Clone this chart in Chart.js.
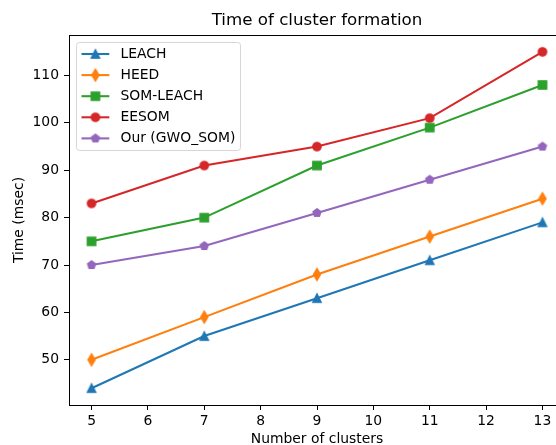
<!DOCTYPE html>
<html>
<head>
<meta charset="utf-8">
<script src="https://cdn.jsdelivr.net/npm/chart.js@4"></script>
<style>
html, body { margin: 0; padding: 0; background: #fff; overflow: hidden; }
#wrap { width: 556px; height: 445px; overflow: hidden; }
</style>
</head>
<body>
<div id="wrap"><canvas id="myChart" width="600" height="445"></canvas></div>
<script>
const clusters = [5, 7, 9, 11, 13];
const leach = [44, 55, 63, 71, 79];
const heed = [50, 59, 68, 76, 84];
const somLeach = [75, 80, 91, 99, 108];
const eesom = [83, 91, 95, 101, 115];
const gwoSom = [70, 74, 81, 88, 95];
const xTicks = [5, 6, 7, 8, 9, 10, 11, 12, 13];
const yTicks = [50, 60, 70, 80, 90, 100, 110];

const FONT = "'DejaVu Sans', sans-serif";
const FS = 13.9;

// matplotlib-like markers drawn on small canvases
function marker(shape, color) {
    const c = document.createElement('canvas');
    c.width = 16; c.height = 16;
    const g = c.getContext('2d');
    g.translate(8, 8);
    const s = 4.17;
    g.beginPath();
    if (shape === 'triangle') {
        g.moveTo(0, -s); g.lineTo(-s, s); g.lineTo(s, s);
    } else if (shape === 'thindiamond') {
        const h = s * 1.414, w = h * 0.6;
        g.moveTo(0, -h); g.lineTo(w, 0); g.lineTo(0, h); g.lineTo(-w, 0);
    } else if (shape === 'square') {
        g.rect(-s, -s, 2 * s, 2 * s);
    } else if (shape === 'circle') {
        g.arc(0, 0, s, 0, Math.PI * 2);
    } else if (shape === 'pentagon') {
        for (let k = 0; k < 5; k++) {
            const a = -Math.PI / 2 + k * 2 * Math.PI / 5;
            if (k === 0) g.moveTo(s * Math.cos(a), s * Math.sin(a));
            else g.lineTo(s * Math.cos(a), s * Math.sin(a));
        }
    }
    g.closePath();
    g.fillStyle = color; g.fill();
    g.lineWidth = 1.39; g.strokeStyle = color; g.stroke();
    return c;
}

function series(label, values, color, shape) {
    const m = marker(shape, color);
    return {
        label: label,
        data: clusters.map((c, i) => ({ x: c, y: values[i] })),
        borderColor: color,
        backgroundColor: color,
        borderWidth: 2.08,
        pointStyle: m,
        pointHoverStyle: m,
        tension: 0,
        fill: false
    };
}

const data = {
    datasets: [
        series('LEACH', leach, '#1f77b4', 'triangle'),
        series('HEED', heed, '#ff7f0e', 'thindiamond'),
        series('SOM-LEACH', somLeach, '#2ca02c', 'square'),
        series('EESOM', eesom, '#d62728', 'circle'),
        series('Our (GWO_SOM)', gwoSom, '#9467bd', 'pentagon')
    ]
};

const framePlugin = {
    id: 'frame',
    afterDraw(chart) {
        const { ctx, chartArea: a } = chart;
        ctx.save();
        ctx.strokeStyle = '#000';
        ctx.lineWidth = 1;
        ctx.strokeRect(Math.round(a.left) + 0.5, Math.round(a.top) + 0.5, a.right - a.left, a.bottom - a.top);
        // title centered over the plot area
        ctx.fillStyle = '#000';
        ctx.font = '16.7px ' + FONT;
        ctx.textAlign = 'center';
        ctx.textBaseline = 'middle';
        ctx.fillText('Time of cluster formation', (a.left + a.right) / 2, 20.5);
        ctx.restore();
    }
};

const legendPlugin = {
    id: 'mplLegend',
    afterDraw(chart) {
        const ctx = chart.ctx;
        ctx.save();
        ctx.beginPath();
        ctx.roundRect(76.5, 42.5, 164, 108, 2.8);
        ctx.fillStyle = 'rgba(255,255,255,0.8)';
        ctx.fill();
        ctx.strokeStyle = '#d6d6d6';
        ctx.lineWidth = 1;
        ctx.stroke();
        ctx.font = FS + 'px ' + FONT;
        ctx.textBaseline = 'middle';
        ctx.textAlign = 'left';
        chart.data.datasets.forEach((ds, i) => {
            const y = 54 + i * 21.1;
            ctx.strokeStyle = ds.borderColor;
            ctx.lineWidth = 2.08;
            ctx.beginPath();
            ctx.moveTo(81.5, y);
            ctx.lineTo(109.3, y);
            ctx.stroke();
            const m = ds.pointStyle;
            ctx.drawImage(m, 95.4 - m.width / 2, y - m.height / 2);
            ctx.fillStyle = '#000';
            ctx.fillText(ds.label, 120.5, y);
        });
        ctx.restore();
    }
};

const config = {
    type: 'line',
    data: data,
    options: {
        responsive: false,
        animation: false,
        layout: { padding: { top: 35, right: 35, left: 0, bottom: 0 } },
        scales: {
            x: {
                type: 'linear',
                min: 4.6,
                max: 13.4,
                afterBuildTicks: (s) => { s.ticks = xTicks.map(v => ({ value: v })); },
                afterFit: (s) => { s.height = 40; },
                grid: { drawOnChartArea: false, color: '#000', tickLength: 5 },
                border: { display: false },
                ticks: { color: '#000', padding: 3, font: { family: FONT, size: FS }, maxRotation: 0 },
                title: { display: true, text: 'Number of clusters', color: '#000', padding: { top: 0, bottom: -2.5 }, font: { family: FONT, size: FS } }
            },
            y: {
                min: 40.45,
                max: 118.55,
                afterBuildTicks: (s) => { s.ticks = yTicks.map(v => ({ value: v })); },
                afterFit: (s) => { s.width = 69; },
                grid: { drawOnChartArea: false, color: '#000', tickLength: 5 },
                border: { display: false },
                ticks: { color: '#000', padding: 5, font: { family: FONT, size: FS } },
                title: { display: true, text: 'Time (msec)', color: '#000', padding: { top: 11, bottom: 0 }, font: { family: FONT, size: FS } }
            }
        },
        plugins: {
            legend: { display: false },
            title: { display: false },
            tooltip: { enabled: false }
        }
    },
    plugins: [framePlugin, legendPlugin]
};

const myChart = new Chart('myChart', config);
</script>
</body>
</html>
